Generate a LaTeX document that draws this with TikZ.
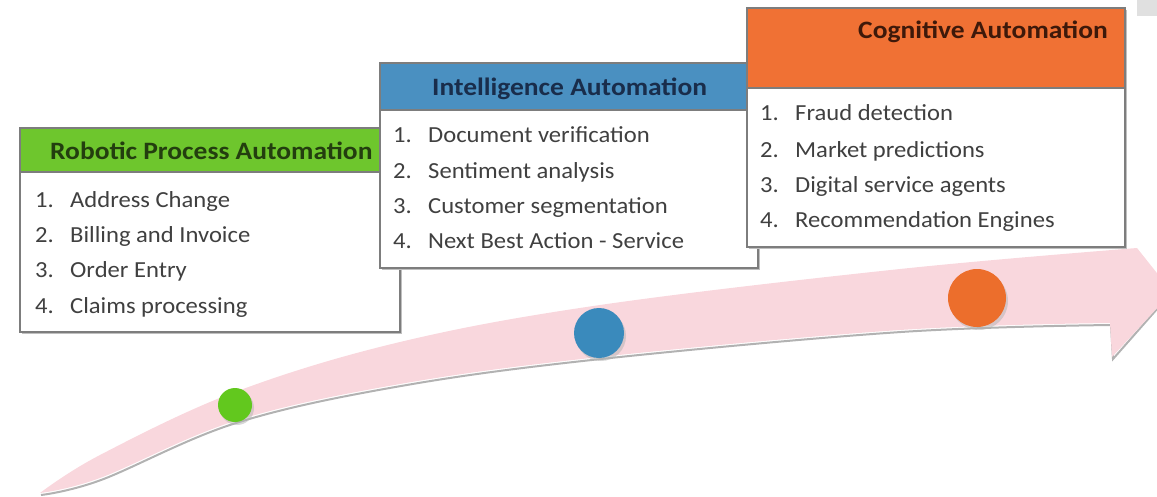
\documentclass[tikz,border=0pt]{standalone}
\usepackage{fontspec}
\setmainfont{Carlito}
\newfontfamily\itemfont[FakeStretch=1.07]{Carlito}
\newfontfamily\headfont[FakeStretch=1.1]{Carlito}
\definecolor{hgreen}{RGB}{110,198,45}
\definecolor{tgreen}{RGB}{35,62,15}
\definecolor{hblue}{RGB}{74,144,193}
\definecolor{tblue}{RGB}{25,45,75}
\definecolor{horange}{RGB}{240,113,52}
\definecolor{torange}{RGB}{62,25,10}
\definecolor{pinkband}{RGB}{249,215,221}
\definecolor{itemgray}{RGB}{64,64,64}
\definecolor{boxgray}{RGB}{125,125,125}
\definecolor{cgreen}{RGB}{98,200,30}
\definecolor{cblue}{RGB}{58,138,188}
\definecolor{corange}{RGB}{236,110,44}
\tikzset{
  boxline/.style={draw=boxgray, line width=1.2pt},
  boxshadow/.style={fill=black!25},
  itemtext/.style={anchor=base west, inner sep=0pt, text=itemgray, font=\itemfont\fontsize{23}{28}\selectfont},
  headtext/.style={anchor=base west, inner sep=0pt, font=\headfont\bfseries\fontsize{25}{30}\selectfont},
  dot/.style={circle, inner sep=0pt},
}
\begin{document}
\begin{tikzpicture}[x=1pt,y=-1pt]
\useasboundingbox (0,0) rectangle (1157,496);
\fill[black!12] (1137,0) rectangle (1157,16);
% arrow band
\coordinate (tail) at (40,493);
\coordinate (tip) at (1172,292);
\draw[black!30, line width=2pt, shift={(1,2)}]
  plot[smooth, tension=0.6] coordinates {(40,493) (100,478) (235,421) (400,384) (600,357) (900,330) (1110,323)}
  -- (1112,357) -- (tip);
\fill[pinkband]
  plot[smooth, tension=0.6] coordinates {(40,493) (100,455) (235,392) (400,342) (600,305) (900,269) (1137,248)}
  -- (tip) -- (1112,357) -- (1110,323)
  -- plot[smooth, tension=0.6] coordinates {(1110,323) (900,330) (600,357) (400,384) (235,421) (100,478) (40,493)}
  -- cycle;
% dots
\fill[black!30, opacity=0.5] (237,408) circle (17);
\node[dot, fill=cgreen, minimum size=34pt] (d1) at (235,405) {};
\fill[black!30, opacity=0.5] (601,336) circle (25);
\node[dot, fill=cblue, minimum size=50pt] (d2) at (599,333) {};
\fill[black!30, opacity=0.5] (979,301) circle (29);
\node[dot, fill=corange, minimum size=58pt] (d3) at (977,298) {};
% box 1
\fill[boxshadow] (22,130) rectangle (402,334);
\fill[white] (20,128) rectangle (400,332);
\fill[hgreen] (20,128) rectangle (400,172);
\draw[boxline] (20,172) -- (400,172);
\draw[boxline] (20,128) rectangle (400,332);
\node[headtext, text=tgreen] (h1) at (50,159) {Robotic Process Automation};
\node[itemtext] (n11) at (35,207) {1.};
\node[itemtext] (t11) at (70,207) {Address Change};
\node[itemtext] (n12) at (35,242) {2.};
\node[itemtext] (t12) at (70,242) {Billing and Invoice};
\node[itemtext] (n13) at (35,277) {3.};
\node[itemtext] (t13) at (70,277) {Order Entry};
\node[itemtext] (n14) at (35,313) {4.};
\node[itemtext] (t14) at (70,313) {Claims processing};
% box 2
\fill[boxshadow] (382,65) rectangle (760,270);
\fill[white] (380,63) rectangle (758,268);
\fill[hblue] (380,63) rectangle (758,110);
\draw[boxline] (380,110) -- (758,110);
\draw[boxline] (380,63) rectangle (758,268);
\node[headtext, text=tblue] (h2) at (432,95) {Intelligence Automation};
\node[itemtext] (n21) at (393,142) {1.};
\node[itemtext] (t21) at (428,142) {Document verification};
\node[itemtext] (n22) at (393,178) {2.};
\node[itemtext] (t22) at (428,178) {Sentiment analysis};
\node[itemtext] (n23) at (393,213) {3.};
\node[itemtext] (t23) at (428,213) {Customer segmentation};
\node[itemtext] (n24) at (393,248) {4.};
\node[itemtext] (t24) at (428,248) {Next Best Action - Service};
% box 3
\fill[boxshadow] (749,10) rectangle (1127,249);
\fill[white] (747,8) rectangle (1125,247);
\fill[horange] (747,8) rectangle (1125,88);
\draw[boxline] (747,88) -- (1125,88);
\draw[boxline] (747,8) rectangle (1125,247);
\node[headtext, text=torange] (h3) at (858,38) {Cognitive Automation};
\node[itemtext] (n31) at (760,120) {1.};
\node[itemtext] (t31) at (795,120) {Fraud detection};
\node[itemtext] (n32) at (760,157) {2.};
\node[itemtext] (t32) at (795,157) {Market predictions};
\node[itemtext] (n33) at (760,192) {3.};
\node[itemtext] (t33) at (795,192) {Digital service agents};
\node[itemtext] (n34) at (760,227) {4.};
\node[itemtext] (t34) at (795,227) {Recommendation Engines};
\end{tikzpicture}
\end{document}
